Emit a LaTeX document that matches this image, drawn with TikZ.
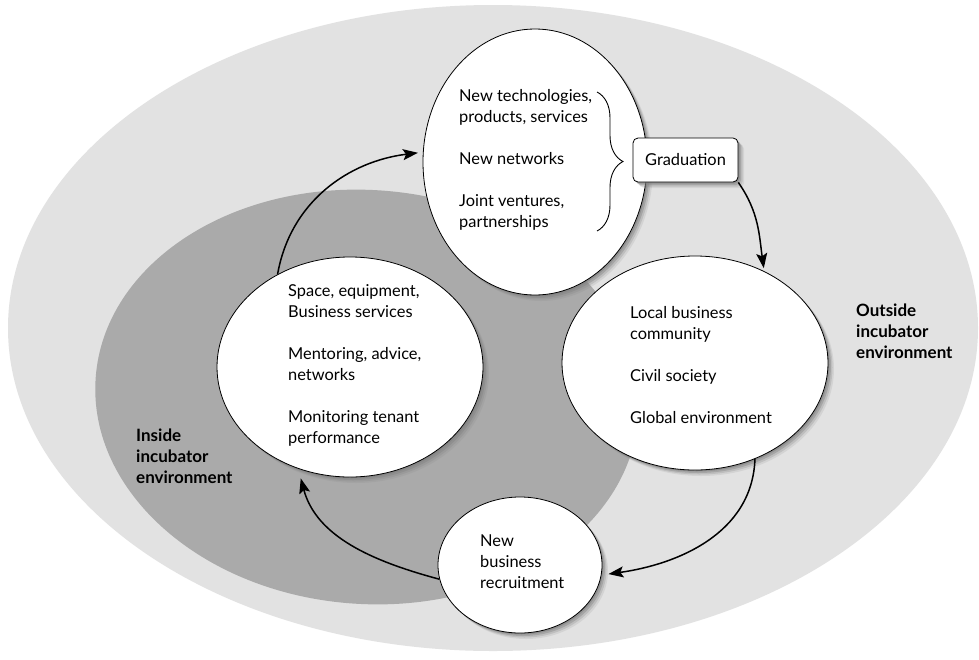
\documentclass[tikz,border=0pt]{standalone}
\usepackage{fontspec}
\setmainfont{Lato}
\usetikzlibrary{shapes.geometric, arrows.meta, positioning, shadows, decorations.pathreplacing}
\definecolor{outsidegray}{gray}{0.885}
\definecolor{insidegray}{gray}{0.665}

\begin{document}
\begin{tikzpicture}[x=1pt, y=1pt,
    blob/.style={ellipse, draw, line width=0.8pt, fill=white, inner sep=0pt,
        drop shadow={shadow xshift=6pt, shadow yshift=-6pt, opacity=0.15},
        drop shadow={shadow xshift=4.5pt, shadow yshift=-4.5pt, opacity=0.25},
        drop shadow={shadow xshift=3pt, shadow yshift=-3pt, opacity=0.4},
        drop shadow={shadow xshift=1.5pt, shadow yshift=-1.5pt, opacity=0.55}},
    txt/.style={align=left, inner sep=0pt, font=\fontsize{16.4}{21}\selectfont},
    envlabel/.style={txt, font=\fontsize{17}{21}\selectfont\bfseries},
    flow/.style={-{Stealth[length=15pt, width=11pt, inset=3pt]}, line width=1.5pt}]
            \fill[white] (0,0) rectangle (979,-659);
            \useasboundingbox (0,0) rectangle (979,-659);
            % outside and inside environment
            \fill[outsidegray] (493,-328) ellipse [x radius=485, y radius=323];
            \fill[insidegray, rotate around={-4:(367,-397)}] (367,-397) ellipse [x radius=272, y radius=207];
            \node[envlabel, anchor=west] (outside) at (856,-331) {Outside\\incubator\\environment};
            \node[envlabel, anchor=west] (inside) at (136,-456) {Inside\\incubator\\environment};
            % the four stages
            \node[blob, minimum width=224pt, minimum height=266pt] (novelty) at (535,-162) {};
            \node[blob, minimum width=266pt, minimum height=220pt] (support) at (350,-367) {};
            \node[blob, minimum width=266pt, minimum height=214pt] (community) at (695,-363) {};
            \node[blob, minimum width=164pt, minimum height=136pt] (recruit) at (520,-565) {};
            \node[txt, anchor=west] (noveltytxt) at (459,-160) {New technologies,\\products, services\\[21pt]New networks\\[21pt]Joint ventures,\\partnerships};
            \node[txt, anchor=west] (supporttxt) at (288,-365) {Space, equipment,\\Business services\\[21pt]Mentoring, advice,\\networks\\[21pt]Monitoring tenant\\performance};
            \node[txt, anchor=west] (communitytxt) at (630,-365) {Local business\\community\\[21pt]Civil society\\[21pt]Global environment};
            \node[txt, anchor=west] (recruittxt) at (480,-562) {New\\business\\recruitment};
            \node[blob, rectangle, rounded corners=5pt, minimum width=105pt, minimum height=44pt, inner sep=0pt,
                font=\fontsize{16.4}{21}\selectfont] (grad) at (685.5,-160) {Graduation};
            \draw[decorate, decoration={brace, amplitude=26pt}, line width=0.9pt]
                (597,-92) -- (597,-231);
            % cycle
            \draw[flow, shorten >=5pt] (support.128) to[out=80, in=187] (novelty.175);
            \draw[flow, shorten >=3pt] (grad.-23) to[out=-55, in=98] (community.53);
            \draw[flow, shorten >=7pt] (community.-58) to[out=-92, in=8] (recruit.-7);
            \draw[flow, shorten >=10pt] (recruit.190) to[out=165, in=-75] (support.-117);
        \end{tikzpicture}
\end{document}
